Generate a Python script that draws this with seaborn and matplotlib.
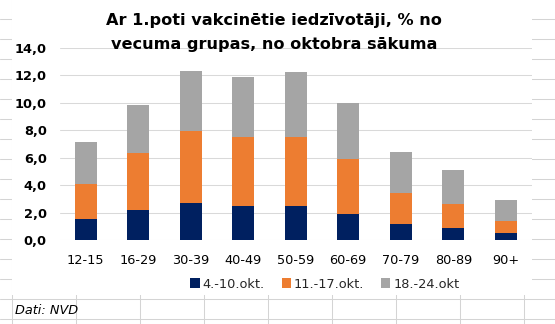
import numpy as np
import pandas as pd
import matplotlib
matplotlib.use("Agg")
import matplotlib.pyplot as plt
from matplotlib.patches import Rectangle
from matplotlib.lines import Line2D
import seaborn as sns

# ---- data ----
categories = ["12-15", "16-29", "30-39", "40-49", "50-59", "60-69", "70-79", "80-89", "90+"]
series_names = ["4.-10.okt.", "11.-17.okt.", "18.-24.okt"]
week1 = [1.5, 2.2, 2.7, 2.5, 2.5, 1.9, 1.2, 0.9, 0.5]
week2 = [2.6, 4.1, 5.2, 5.0, 5.0, 4.0, 2.2, 1.7, 0.9]
week3 = [3.0, 3.5, 4.4, 4.4, 4.7, 4.1, 3.0, 2.5, 1.5]
yticks = [0, 2, 4, 6, 8, 10, 12, 14]
title_lines = ["Ar 1.poti vakcinētie iedzīvotāji, % no", "vecuma grupas, no oktobra sākuma"]
source = "Dati: NVD"

colors = ["#002060", "#ED7D31", "#A5A5A5"]
grid_c = "#D9D9D9"
sheet_c = "#D4D4D4"

sns.set_theme(style="white")
plt.rcParams["font.family"] = ["DejaVu Sans"]

W, H = 555, 324
fig = plt.figure(figsize=(W / 100, H / 100), dpi=100)

def fx(px):
    return px / W

def fy(py):
    return 1 - py / H

# spreadsheet background grid
for k in range(16):
    y = 19.3 + 20 * k
    fig.add_artist(Line2D([0, 1], [fy(y), fy(y)], transform=fig.transFigure,
                          color=sheet_c, lw=0.75, zorder=0))
for k in range(9):
    x = 12.3 + 64 * k
    fig.add_artist(Line2D([fx(x), fx(x)], [0, 1], transform=fig.transFigure,
                          color=sheet_c, lw=0.75, zorder=0))
# chart area (white, covers grid)
fig.add_artist(Rectangle((fx(12.0), fy(294.5)), fx(531.6) - fx(12.0), 1 - fy(294.5) + 0.01,
                         transform=fig.transFigure, facecolor="white", edgecolor="none", zorder=1))

ax_left, ax_right, ax_top, ax_bot = 59.5, 532.0, 47.7, 240.0
ax = fig.add_axes([fx(ax_left), fy(ax_bot), fx(ax_right) - fx(ax_left), fy(ax_top) - fy(ax_bot)])
ax.set_zorder(2)
ax.patch.set_alpha(0)

df = pd.DataFrame({"cat": categories, "w1": week1, "w2": week2, "w3": week3})
df["c2"] = df["w1"] + df["w2"]
df["c3"] = df["c2"] + df["w3"]

for col, c in zip(["c3", "c2", "w1"], colors[::-1]):
    sns.barplot(data=df, x="cat", y=col, color=c, width=0.42, ax=ax,
                saturation=1, edgecolor="none", linewidth=0, zorder=3)

ax.set_ylim(0, 14)
ax.set_xlim(-0.5, len(categories) - 0.5)
ax.set_yticks(yticks)
ax.set_yticklabels([f"{v:.1f}".replace(".", ",") for v in yticks],
                   fontsize=9.3, fontweight="bold", color="#000000")
ax.set_xticklabels(categories, fontsize=9.3, color="#000000")
ax.tick_params(axis="y", length=0, pad=9.2)
ax.tick_params(axis="x", length=0, pad=10)
ax.set_xlabel("")
ax.set_ylabel("")
ax.grid(axis="y", color=grid_c, lw=0.75, zorder=0)
ax.set_axisbelow(True)
for s in ax.spines.values():
    s.set_visible(False)

for line, base in zip(title_lines, [24.5, 48.5]):
    fig.text(fx(274), fy(base), line, ha="center", va="baseline", fontsize=11.6,
             fontweight="bold", color="#000000", zorder=3)

handles = [Rectangle((0, 0), 1, 1, facecolor=c, edgecolor="none") for c in colors]
fig.legend(handles, series_names, loc="center", bbox_to_anchor=(fx(325), fy(284)),
           ncol=3, frameon=False, fontsize=9.3, handlelength=0.7, handleheight=0.7,
           handletextpad=0.25, columnspacing=1.3, borderaxespad=0)

fig.text(fx(15), fy(310.7), source, ha="left", va="center", fontsize=9.3,
         fontstyle="italic", color="#000000", zorder=3)

fig.savefig("out.png", dpi=100)
